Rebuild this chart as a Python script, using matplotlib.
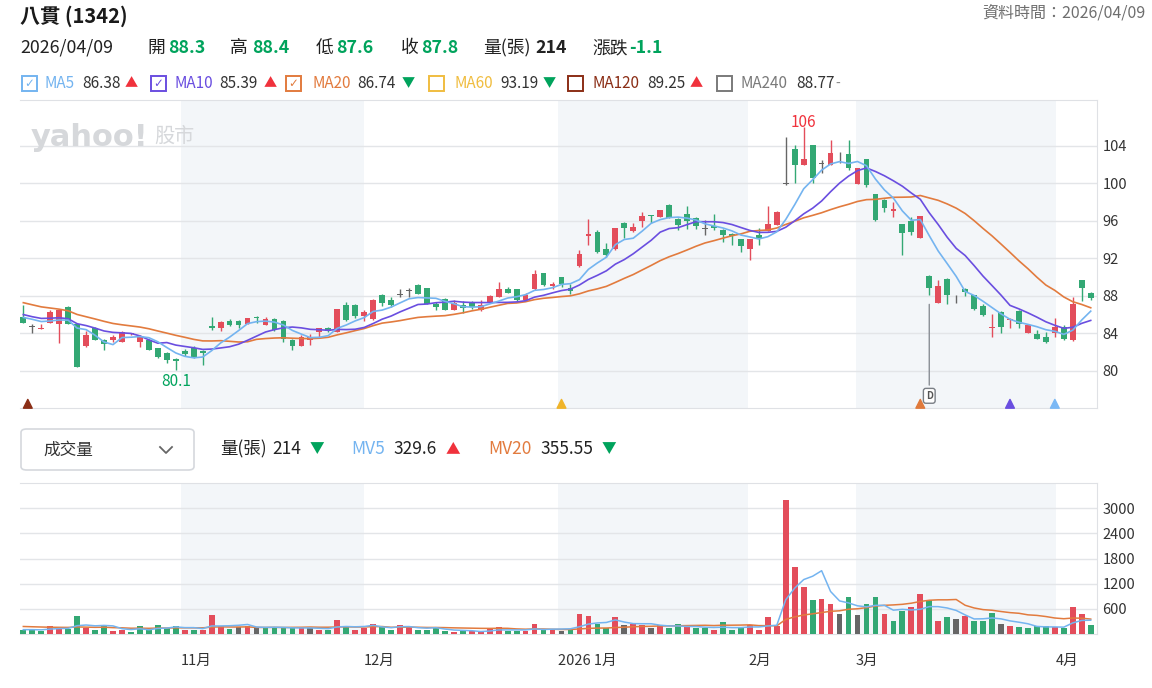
import matplotlib
matplotlib.use("Agg")
import matplotlib.pyplot as plt
import matplotlib.transforms as mtransforms
from matplotlib.patches import Rectangle, FancyBboxPatch
from matplotlib.lines import Line2D
import numpy as np
import pandas as pd

plt.rcParams["font.family"] = ["Noto Sans CJK TC", "DejaVu Sans"]

# daily candles, Oct 2025 -> 2026/04/09
opens = [85.8, 84.7, 84.5, 85.15, 85.0, 86.85, 85.0, 82.65, 84.55, 83.35,
         83.35, 83.1, 83.9, 83.1, 83.3, 82.4, 81.9, 81.3, 82.1, 82.5,
         82.1, 84.8, 84.55, 85.3, 85.35, 85.0, 85.75, 84.9, 85.5, 85.3,
         83.3, 82.7, 83.35, 84.2, 84.55, 84.2, 87.0, 87.0, 85.9, 85.5,
         88.15, 87.55, 88.1, 88.5, 89.15, 88.8, 87.1, 87.7, 86.5, 87.0,
         87.35, 86.5, 87.4, 87.9, 88.7, 88.7, 87.55, 88.7, 90.4, 89.05,
         90.0, 88.85, 91.15, 94.4, 94.8, 93.05, 92.97, 95.8, 94.95, 95.95,
         96.6, 96.4, 97.75, 96.25, 96.75, 96.3, 95.1, 95.45, 95.05, 94.65,
         94.05, 93.0, 94.55, 94.9, 95.6, 99.9, 103.65, 101.95, 104.1, 102.1,
         101.97, 103.2, 103.15, 99.95, 102.58, 98.85, 98.25, 97.05, 95.65, 96.0,
         94.2, 90.15, 87.25, 89.85, 88.05, 88.7, 88.08, 86.9, 84.6, 86.3,
         85.4, 86.4, 84.05, 83.9, 83.65, 84.1, 84.7, 83.25, 89.7, 88.3]
highs = [87.0, 85.0, 85.0, 86.5, 86.5, 86.9, 85.0, 84.25, 84.65, 83.4,
         83.8, 84.3, 84.1, 83.8, 83.4, 82.5, 82.0, 81.4, 82.3, 82.7,
         82.2, 85.8, 85.3, 85.5, 85.4, 85.65, 85.85, 85.8, 85.6, 85.4,
         83.4, 83.8, 83.9, 84.6, 84.7, 86.6, 87.4, 87.1, 86.5, 87.65,
         88.25, 87.9, 88.7, 88.9, 89.3, 88.85, 87.35, 87.8, 87.55, 87.5,
         87.45, 87.6, 88.05, 89.5, 89.0, 88.75, 88.35, 90.8, 90.5, 89.5,
         90.05, 89.3, 92.9, 96.25, 95.0, 93.65, 95.3, 95.85, 95.8, 96.95,
         96.65, 97.2, 97.8, 96.3, 97.55, 96.4, 96.15, 96.7, 95.1, 94.7,
         94.1, 94.1, 95.25, 97.55, 97.05, 105.0, 104.1, 106.0, 104.1, 102.5,
         104.65, 103.4, 104.65, 101.65, 102.6, 98.9, 98.3, 98.05, 95.7, 96.4,
         96.55, 90.2, 89.7, 89.9, 88.05, 88.9, 88.1, 87.1, 86.1, 86.35,
         85.6, 86.45, 84.9, 84.4, 84.2, 85.65, 84.95, 87.85, 89.75, 88.4]
lows = [85.1, 84.0, 84.5, 85.1, 83.0, 85.0, 80.4, 82.6, 83.3, 82.2,
        83.1, 83.1, 83.8, 82.6, 82.2, 81.4, 80.8, 80.1, 81.6, 81.4,
        80.6, 84.4, 84.3, 84.8, 84.6, 85.0, 85.1, 84.9, 84.3, 83.1,
        82.2, 82.7, 82.8, 83.65, 84.2, 84.2, 85.3, 85.6, 85.35, 85.4,
        86.9, 86.85, 87.85, 87.9, 88.2, 87.1, 86.5, 86.45, 86.5, 86.2,
        86.6, 86.4, 87.3, 87.9, 88.3, 87.5, 87.5, 88.6, 89.1, 88.7,
        88.95, 88.2, 91.1, 93.4, 92.6, 92.2, 92.9, 94.2, 94.8, 95.4,
        95.8, 96.4, 96.3, 95.05, 95.15, 95.15, 94.5, 95.05, 93.8, 93.45,
        92.65, 91.85, 93.45, 94.9, 95.6, 99.85, 100.1, 101.95, 100.1, 101.1,
        101.95, 102.2, 101.45, 99.9, 99.6, 96.0, 97.0, 96.4, 92.35, 94.5,
        94.2, 88.1, 87.25, 87.1, 87.25, 87.95, 86.5, 85.9, 83.65, 84.1,
        84.6, 84.6, 84.0, 83.4, 82.95, 83.6, 83.35, 83.2, 87.45, 87.6]
closes = [85.15, 84.7, 84.6, 86.3, 86.45, 85.05, 80.45, 83.8, 83.3, 82.85,
          83.65, 84.2, 84.0, 83.65, 82.25, 81.45, 81.15, 81.1, 81.85, 81.45,
          81.9, 84.55, 85.2, 84.95, 84.95, 85.6, 85.6, 85.5, 84.4, 83.4,
          82.7, 83.65, 83.65, 84.55, 84.3, 86.6, 85.4, 85.85, 86.3, 87.6,
          87.3, 87.0, 88.1, 88.5, 88.25, 87.1, 86.8, 86.5, 87.2, 86.7,
          86.85, 87.0, 88.0, 88.7, 88.35, 87.55, 88.1, 90.3, 89.15, 89.3,
          89.3, 88.5, 92.45, 94.65, 92.7, 92.35, 95.2, 95.2, 95.35, 96.5,
          96.5, 97.15, 96.3, 95.6, 95.95, 95.5, 95.1, 95.2, 94.5, 94.4,
          93.3, 94.05, 94.15, 95.7, 97.0, 99.9, 101.95, 102.6, 100.55, 102.1,
          103.2, 103.2, 101.6, 101.6, 99.85, 96.1, 97.4, 97.25, 94.75, 94.85,
          96.5, 88.8, 89.05, 88.05, 88.05, 88.45, 86.65, 85.95, 84.7, 84.7,
          85.55, 85.05, 84.85, 83.45, 83.1, 84.7, 83.4, 87.1, 88.9, 87.8]
volumes = [96, 120, 64, 192, 176, 120, 440, 144, 96, 224,
           64, 104, 40, 192, 104, 224, 144, 184, 104, 104,
           104, 464, 184, 128, 160, 200, 160, 144, 144, 144,
           144, 144, 144, 104, 104, 344, 200, 104, 144, 240,
           160, 104, 224, 160, 104, 104, 160, 64, 40, 64,
           64, 64, 120, 176, 64, 64, 64, 240, 104, 104,
           80, 95, 480, 424, 240, 136, 400, 224, 240, 224,
           136, 224, 136, 240, 160, 136, 136, 104, 280, 104,
           136, 216, 104, 400, 184, 3184, 1600, 1120, 800, 840,
           704, 480, 880, 456, 720, 880, 480, 304, 560, 640,
           960, 800, 301, 400, 350, 424, 320, 320, 500, 240,
           184, 160, 136, 184, 184, 178, 136, 640, 480, 214]

# sessions just before the visible window, only to warm up the averages
prior_closes = [89.2, 89.0, 88.8, 88.9, 88.5, 88.3, 88.6, 88.1, 87.9, 88.2,
                87.0, 86.4, 86.1, 85.9, 86.2, 85.7, 85.8, 86.0, 85.9]
prior_volumes = [250, 180, 300, 220, 160, 210, 240, 190, 170, 260,
                 200, 230, 180, 160, 110, 120, 90, 100, 114]

month_labels = ["11月", "12月", "2026 1月", "2月", "3月", "4月"]
month_edges = [17.6, 38.0, 59.6, 80.8, 92.8, 115.1]

long_ma_names = ["MA60", "MA120", "MA240"]
long_ma_values = ["93.19", "89.25", "88.77"]
long_ma_dirs = ["▼", "▲", "-"]

signal_idx = [0.5, 60, 100, 110, 115]
signal_colors = ["#8b2e16", "#f0b429", "#e07a3c", "#6a4ee0", "#7ab8f5"]
dividend_idx = [101]

RED = "#e34d5b"
GREEN = "#33a874"
GRAY = "#666666"
TXT_RED = "#f0323c"
TXT_GREEN = "#00a35c"
MA5_C, MA10_C, MA20_C = "#74b4f0", "#6a4ee0", "#e27b3e"
SHADE = "#f3f6f9"
GRID = "#e3e5e8"

W, H = 1152, 688


def fx(x):
    return x / W


def fy(y):
    return 1 - y / H


fig = plt.figure(figsize=(W / 100, H / 100), dpi=100)


def ftext(x, y, s, **kw):
    kw.setdefault("va", "center")
    kw.setdefault("color", "#222222")
    return fig.text(fx(x), fy(y), s, **kw)


n = len(closes)
idx = np.arange(n)
o, h, l, c = (np.array(v, dtype=float) for v in (opens, highs, lows, closes))
v = np.array(volumes, dtype=float)
XLIM = (-0.37, 119.7)

# ---------------- price panel ----------------
ax = fig.add_axes([fx(20), fy(408), 1077 / W, 308 / H])
ax.set_xlim(*XLIM)
ax.set_ylim(76.05, 108.9)
for a, b in zip(month_edges[0::2], month_edges[1::2]):
    ax.axvspan(a, b, color=SHADE, lw=0, zorder=0)

ccol = np.where(c > o, RED, np.where(c < o, GREEN, GRAY))
ax.vlines(idx, l, h, colors=ccol, lw=1, zorder=2)
ax.bar(idx, np.maximum(np.abs(c - o), 0.1), bottom=np.minimum(o, c),
       width=0.64, color=ccol, zorder=3)

all_c = pd.Series(prior_closes + closes)
k0 = len(prior_closes)
ma = {}
for win, col in [(20, MA20_C), (10, MA10_C), (5, MA5_C)]:
    ma[win] = all_c.rolling(win, min_periods=1).mean().values
    ax.plot(idx, ma[win][k0:], color=col, lw=1.2, zorder=4)

ax.set_yticks(range(80, 105, 4))
ax.grid(axis="y", color=GRID, lw=1)
ax.set_axisbelow(True)
ax.yaxis.tick_right()
ax.tick_params(axis="y", length=0, pad=4, labelsize=10.5, labelcolor="#333333")
ax.set_xticks([])
ax.spines["left"].set_visible(False)
for s in ("top", "bottom", "right"):
    ax.spines[s].set_color("#dfe1e5")

imax, imin = int(np.argmax(h)), int(np.argmin(l))
ax.text(imax, 106.45, f"{h[imax]:g}", ha="center", va="center", color=TXT_RED, fontsize=11)
ax.text(imin, 78.85, f"{l[imin]:g}", ha="center", va="center", color=TXT_GREEN, fontsize=11)

ax.scatter(signal_idx, [76.5] * len(signal_idx), marker="^", s=40,
           c=signal_colors, zorder=5, clip_on=False)
for d in dividend_idx:
    ax.annotate("D", xy=(d, l[d] - 0.7), xytext=(d, 77.35), ha="center", va="center",
                fontsize=7, color="#555555", weight="bold",
                arrowprops=dict(arrowstyle="-", color="#8a8f96", lw=1),
                bbox=dict(boxstyle="round,pad=0.25", fc="white", ec="#7a7f86", lw=1),
                zorder=6)

# watermark
ftext(31, 137, "yahoo!", fontsize=22, weight="heavy", color="#d6d8db", family="DejaVu Sans")
ftext(154, 136, "股市", fontsize=14.5, color="#d6d8db")

# ---------------- volume panel ----------------
axv = fig.add_axes([fx(20), fy(634), 1077 / W, 151 / H])
axv.set_xlim(*XLIM)
axv.set_ylim(0, 3600)
for a, b in zip(month_edges[0::2], month_edges[1::2]):
    axv.axvspan(a, b, color=SHADE, lw=0, zorder=0)

prev_c = np.concatenate([[prior_closes[-1]], c[:-1]])
vcol = np.where(c > prev_c, RED, np.where(c < prev_c, GREEN, GRAY))
axv.bar(idx, v, width=0.64, color=vcol, zorder=3)

all_v = pd.Series(prior_volumes + volumes, dtype=float)
mv5 = all_v.rolling(5, min_periods=1).mean().values
mv20 = all_v.rolling(20, min_periods=1).mean().values
axv.plot(idx, mv20[k0:], color=MA20_C, lw=1.1, zorder=4)
axv.plot(idx, mv5[k0:], color=MA5_C, lw=1.1, zorder=4)

axv.set_yticks(range(600, 3001, 600))
axv.grid(axis="y", color=GRID, lw=1)
axv.set_axisbelow(True)
axv.yaxis.tick_right()
axv.tick_params(axis="y", length=0, pad=4, labelsize=10.5, labelcolor="#333333")
axv.set_xticks([])
axv.spines["left"].set_visible(False)
for s in ("top", "bottom", "right"):
    axv.spines[s].set_color("#dfe1e5")

trans = mtransforms.blended_transform_factory(axv.transData, fig.transFigure)
for e, lab in zip(month_edges, month_labels):
    fig.text(e, fy(661), lab, transform=trans, ha="left", va="center",
             fontsize=10.5, color="#333333")

# ---------------- header ----------------
ftext(20, 16, "八貫 (1342)", fontsize=14.5, weight="bold", color="#1a1a1a")
ftext(1145, 13, "資料時間：2026/04/09", ha="right", fontsize=11.5, color="#6e6e6e")

chg = c[-1] - c[-2]
chg_col = TXT_GREEN if chg < 0 else TXT_RED
ftext(20, 48, "2026/04/09", fontsize=12.8)
for x, lab in [(147, "開"), (230, "高"), (316, "低"), (401, "收"), (483, "量(張)"), (592, "漲跌")]:
    ftext(x, 48, lab, fontsize=12.8)
for x, val in [(168, o[-1]), (252, h[-1]), (336, l[-1]), (421, c[-1])]:
    ftext(x, 48, f"{val:.1f}", fontsize=12.8, weight="bold", color=TXT_GREEN)
ftext(535, 48, f"{int(v[-1])}", fontsize=12.8, weight="bold")
ftext(629, 48, f"{chg:.1f}", fontsize=12.8, weight="bold", color=chg_col)


def arrow(now, before):
    if now > before:
        return "▲", TXT_RED
    if now < before:
        return "▼", TXT_GREEN
    return "-", "#888888"


# checkbox x, name x, value x, arrow centre x
legend_x = [(22, 45, 82, 131), (151, 174, 219, 270), (286, 312, 357, 408),
            (429, 454, 500, 549), (568, 592, 647, 696), (717, 741, 796, 838)]
entries = []
for win in (5, 10, 20):
    entries.append((f"MA{win}", f"{ma[win][-1]:.2f}", arrow(ma[win][-1], ma[win][-2]), True))
for name, val, d in zip(long_ma_names, long_ma_values, long_ma_dirs):
    entries.append((name, val, (d, TXT_RED if d == "▲" else TXT_GREEN if d == "▼" else "#888888"), False))
leg_colors = [MA5_C, MA10_C, MA20_C, "#f0bd40", "#8b2e16", "#7a7a7a"]

for (bx, nx, vx, ax_), (name, val, (sym, scol), checked), col in zip(legend_x, entries, leg_colors):
    fig.patches.append(Rectangle((fx(bx), fy(91)), 15 / W, 15 / H, transform=fig.transFigure,
                                 fill=False, ec=col, lw=1.4))
    if checked:
        ftext(bx + 7.5, 83.5, "✓", ha="center", fontsize=8.5, color=col, family="DejaVu Sans")
    ftext(nx, 84, name, fontsize=11, color=col)
    ftext(vx, 84, val, fontsize=11, color="#333333")
    ftext(ax_, 84, sym, ha="center", fontsize=9.5 if sym != "-" else 10, color=scol)

# volume header
fig.patches.append(FancyBboxPatch((fx(21), fy(470)), 173 / W, 41 / H,
                                  boxstyle="round,pad=0,rounding_size=0.005",
                                  transform=fig.transFigure, ec="#d5d8dd", fc="white", lw=1.2))
ftext(43, 450, "成交量", fontsize=12, color="#333333")
fig.lines.append(Line2D([fx(160), fx(166), fx(172)], [fy(447), fy(453), fy(447)],
                        transform=fig.transFigure, color="#666666", lw=1.3))

ftext(220, 449, "量(張)", fontsize=12.5)
ftext(272, 449, f"{int(v[-1])}", fontsize=12.5)
s, sc = arrow(v[-1], v[-2])
ftext(317, 449, s, ha="center", fontsize=10.5, color=sc)
ftext(351, 449, "MV5", fontsize=12.5, color=MA5_C)
ftext(393, 449, f"{mv5[-1]:.1f}", fontsize=12.5)
s, sc = arrow(mv5[-1], mv5[-2])
ftext(453, 449, s, ha="center", fontsize=10.5, color=sc)
ftext(488, 449, "MV20", fontsize=12.5, color=MA20_C)
ftext(540, 449, f"{mv20[-1]:.2f}", fontsize=12.5)
s, sc = arrow(mv20[-1], mv20[-2])
ftext(609, 449, s, ha="center", fontsize=10.5, color=sc)

fig.savefig("out.png", dpi=100, facecolor="white")
